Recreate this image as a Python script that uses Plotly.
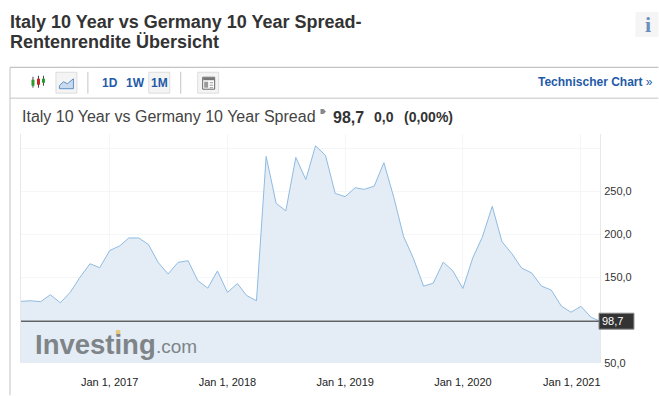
import plotly.graph_objects as go
import pandas as pd

dates = pd.date_range("2016-04-01", periods=60, freq="MS")
spread = [121.8,122.5,121.4,129.5,120.2,132.5,149.9,165.6,161.0,181.0,186.4,195.6,195.6,188.0,166.8,153.7,
          167.2,169.1,146.0,137.2,157.2,132.2,142.5,128.7,122.5,290.6,236.0,227.2,289.5,263.7,302.9,291.8,
          247.5,243.7,254.1,252.2,256.0,283.3,242.5,197.5,171.4,139.5,142.9,167.5,157.2,136.8,172.9,196.4,
          232.5,191.4,177.2,160.6,154.9,139.5,134.9,116.4,109.1,116.0,103.3,98.7]
last_value = 98.7
x_tick_vals = ["2017-01-01","2018-01-01","2019-01-01","2020-01-01","2021-01-01"]
x_tick_text = ["Jan 1, 2017","Jan 1, 2018","Jan 1, 2019","Jan 1, 2020","Jan 1, 2021"+"\u00a0"*6]
y_tick_vals = [50,150,200,250,300]
y_tick_text = ["50,0","150,0","200,0","250,0",""]

W, H = 659, 396
L, R, T, B = 20.5, 600.5, 133.5, 363.5
px = lambda v: (v - L) / (R - L)
py = lambda v: (B - v) / (B - T)

shapes, annots = [], []
def line(x0, y0, x1, y1, color, width=1):
    shapes.append(dict(type="line", xref="paper", yref="paper", x0=px(x0), y0=py(y0), x1=px(x1), y1=py(y1),
                       line=dict(color=color, width=width)))
def rect(x0, y0, x1, y1, fill, border=None, layer="above"):
    shapes.append(dict(type="rect", xref="paper", yref="paper", x0=px(x0), y0=py(y0), x1=px(x1), y1=py(y1),
                       fillcolor=fill, layer=layer, line=dict(color=border or fill, width=1 if border else 0)))
def text(x, y, s, size, color, bold=False, anchor="left", family="Liberation Sans"):
    annots.append(dict(xref="paper", yref="paper", x=px(x - 2 if anchor == "left" else x), y=py(y),
                       text=f"<b>{s}</b>" if bold else s,
                       showarrow=False, xanchor=anchor, yanchor="middle",
                       font=dict(family=family, size=size, color=color)))

# page furniture
text(9, 21.5, "Italy 10 Year vs Germany 10 Year Spread-", 18, "#333333", True)
text(9, 41.5, "Rentenrendite Übersicht", 18, "#333333", True)
rect(636, 11, 659, 36, "#f5f5f5")
text(649, 24, "i", 22, "#6a8fbd", True, "center", "Liberation Serif")
line(9.5, 66.5, 659, 66.5, "#b4b4b4")
line(9.5, 66.5, 9.5, 396, "#c4c4c4")
line(9.5, 97.5, 659, 97.5, "#c4c4c4")
line(87.5, 71, 87.5, 93, "#c4c4c4")
line(180.5, 71, 180.5, 93, "#c4c4c4")
# toolbar buttons
rect(55.5, 71.5, 76.5, 92.5, "#f4f4f4", "#dddddd")
rect(148.5, 71.5, 169.5, 92.5, "#f4f4f4", "#dddddd")
rect(197.5, 71.5, 218.5, 92.5, "#f4f4f4", "#dddddd")
# candle icon
for cx, c, y0, y1, b0, b1 in [(32.5, "#2a9a2a", 76, 87, 79, 85), (38, "#cc2222", 75, 87, 78, 84), (43, "#2a9a2a", 75, 85, 78, 82)]:
    line(cx, y0, cx, y1, "#444444")
    rect(cx - 1.5, b0, cx + 1.5, b1, c)
# line icon
shapes.append(dict(type="path", xref="paper", yref="paper",
                   path="M %f,%f L %f,%f L %f,%f L %f,%f L %f,%f L %f,%f Z" % (
                       px(59), py(85), px(63), py(81), px(67), py(83), px(73), py(78), px(73), py(88), px(59), py(88)),
                   fillcolor="#c9dcef", line=dict(color="#5f8fc4", width=1)))
# news icon
rect(202.5, 76.5, 214.5, 88.5, "#ffffff", "#666666")
rect(203, 77, 214, 79.5, "#777777")
rect(204, 81, 208, 87, "#999999")
line(209.5, 82, 213, 82, "#999999"); line(209.5, 84.5, 213, 84.5, "#999999"); line(209.5, 87, 213, 87, "#999999")
text(110, 82, "1D", 12, "#1f5aa8", True, "center")
text(135, 82, "1W", 12, "#1f5aa8", True, "center")
text(159.5, 82, "1M", 12, "#1f5aa8", True, "center")
text(538, 81, "<b>Technischer Chart</b> »", 12, "#1f5aa8")
# quote line
text(21.5, 116, "Italy 10 Year vs Germany 10 Year Spread", 16, "#444444")
shapes.append(dict(type="path", xref="paper", yref="paper",
                   path="M %f,%f L %f,%f L %f,%f L %f,%f L %f,%f Z" % (
                       px(320.5), py(108.5), px(323.5), py(108.5), px(326), py(111), px(323.5), py(113.5), px(320.5), py(113.5)),
                   fillcolor="#888888", line=dict(width=0)))
text(333, 116.5, "98,7", 16, "#333333", True)
text(374, 116.5, "0,0", 14, "#333333", True)
text(404, 116.5, "(0,00%)", 14, "#333333", True)
# current value marker
shapes.append(dict(type="line", xref="paper", yref="y", x0=0, x1=1, y0=last_value, y1=last_value,
                   line=dict(color="#222222", width=1)))
rect(599.5, 313.5, 634.5, 329.5, "#333333", "#888888")
text(603, 321.5, "98,7", 11, "#ffffff")
# watermark
text(34.5, 345, "<b>Investing</b>", 27.5, "#7e8488")
text(156, 347, ".com", 19, "#7e8488")
rect(115.5, 330.5, 120, 336, "#e5c87e")

fig = go.Figure(go.Scatter(x=dates, y=spread, mode="lines", fill="tozeroy", fillcolor="#e4edf5",
                           line=dict(color="#8fbbe2", width=1), hoverinfo="skip"))
fig.update_layout(
    width=W, height=H, margin=dict(l=L, r=W - R, t=T, b=H - B, pad=0), paper_bgcolor="white", plot_bgcolor="white",
    showlegend=False, shapes=shapes, annotations=annots,
    font=dict(family="Liberation Sans", size=11, color="#222222"),
    xaxis=dict(range=["2016-04-01", "2021-03-01"], tickvals=x_tick_vals, ticktext=x_tick_text, automargin=False,
               ticks="outside", ticklen=9, tickcolor="rgba(255,255,255,0)",
               showgrid=True, gridcolor="#f3f5f7", gridwidth=1, zeroline=False, showline=False, tickangle=0,
               tickfont=dict(size=11, color="#222222")),
    yaxis=dict(range=[50, 316.7], side="right", tickvals=y_tick_vals, ticktext=y_tick_text, automargin=False,
               ticks="outside", ticklen=1, tickcolor="rgba(255,255,255,0)",
               showgrid=True, gridcolor="#f5f6f7", gridwidth=1, zeroline=False, showline=True, mirror=True,
               linecolor="#e8e8e8", tickfont=dict(size=11, color="#333333")),
)
fig.write_html("out.html", config=dict(displayModeBar=False),
               post_script="document.body.style.margin='0';document.body.style.overflow='hidden';")
